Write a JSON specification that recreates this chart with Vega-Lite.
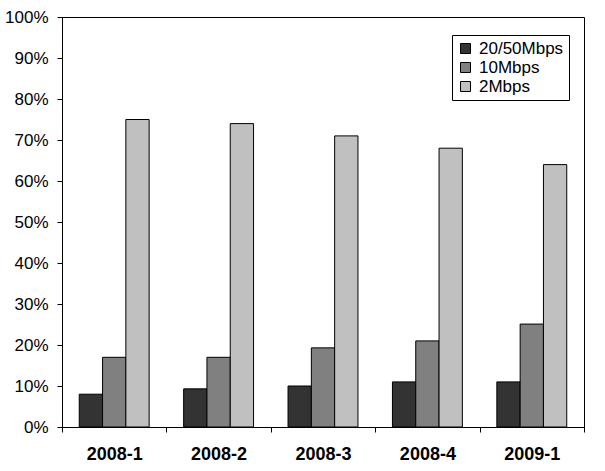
{
  "$schema": "https://vega.github.io/schema/vega-lite/v6.json",
  "autosize": {"type": "none"},
  "padding": {"left": 62, "top": 17, "right": 21, "bottom": 44},
  "width": 522,
  "height": 410,
  "background": "white",
  "config": {
    "font": "Liberation Sans",
    "view": {"stroke": "black", "strokeWidth": 1},
    "axis": {"domainColor": "black", "tickColor": "black", "labelColor": "black", "grid": false}
  },
  "data": {
    "values": [
      {"period": "2008-1", "speed": "20/50Mbps", "share": 8},
      {"period": "2008-1", "speed": "10Mbps", "share": 17},
      {"period": "2008-1", "speed": "2Mbps", "share": 75},
      {"period": "2008-2", "speed": "20/50Mbps", "share": 9.3},
      {"period": "2008-2", "speed": "10Mbps", "share": 17},
      {"period": "2008-2", "speed": "2Mbps", "share": 74},
      {"period": "2008-3", "speed": "20/50Mbps", "share": 10},
      {"period": "2008-3", "speed": "10Mbps", "share": 19.3},
      {"period": "2008-3", "speed": "2Mbps", "share": 71},
      {"period": "2008-4", "speed": "20/50Mbps", "share": 11},
      {"period": "2008-4", "speed": "10Mbps", "share": 21},
      {"period": "2008-4", "speed": "2Mbps", "share": 68},
      {"period": "2009-1", "speed": "20/50Mbps", "share": 11},
      {"period": "2009-1", "speed": "10Mbps", "share": 25.1},
      {"period": "2009-1", "speed": "2Mbps", "share": 64}
    ]
  },
  "mark": {"type": "bar", "stroke": "black", "strokeWidth": 1},
  "encoding": {
    "x": {
      "field": "period", "type": "nominal", "title": null,
      "scale": {"paddingInner": 0, "paddingOuter": 0},
      "axis": {"labelAngle": 0, "labelFontSize": 18, "labelFontWeight": "bold", "labelPadding": 13, "tickSize": 5, "tickBand": "extent"}
    },
    "xOffset": {
      "field": "speed", "type": "nominal",
      "sort": ["20/50Mbps", "10Mbps", "2Mbps"],
      "scale": {"paddingInner": 0, "paddingOuter": 0.74}
    },
    "y": {
      "field": "share", "type": "quantitative", "title": null,
      "scale": {"domain": [0, 100], "nice": false},
      "axis": {"values": [0, 10, 20, 30, 40, 50, 60, 70, 80, 90, 100], "labelExpr": "datum.value + '%'", "labelFontSize": 17, "labelPadding": 9, "tickSize": 5}
    },
    "color": {
      "field": "speed", "type": "nominal",
      "scale": {"domain": ["20/50Mbps", "10Mbps", "2Mbps"], "range": ["#333333", "#808080", "#c0c0c0"]},
      "legend": {
        "title": null, "orient": "none", "legendX": 390, "legendY": 18,
        "symbolType": "square", "symbolSize": 100, "symbolStrokeColor": "black", "symbolStrokeWidth": 1,
        "labelFontSize": 17, "labelColor": "black", "rowPadding": 1, "labelOffset": 5,
        "strokeColor": "black", "fillColor": "white", "padding": 5
      }
    }
  }
}
